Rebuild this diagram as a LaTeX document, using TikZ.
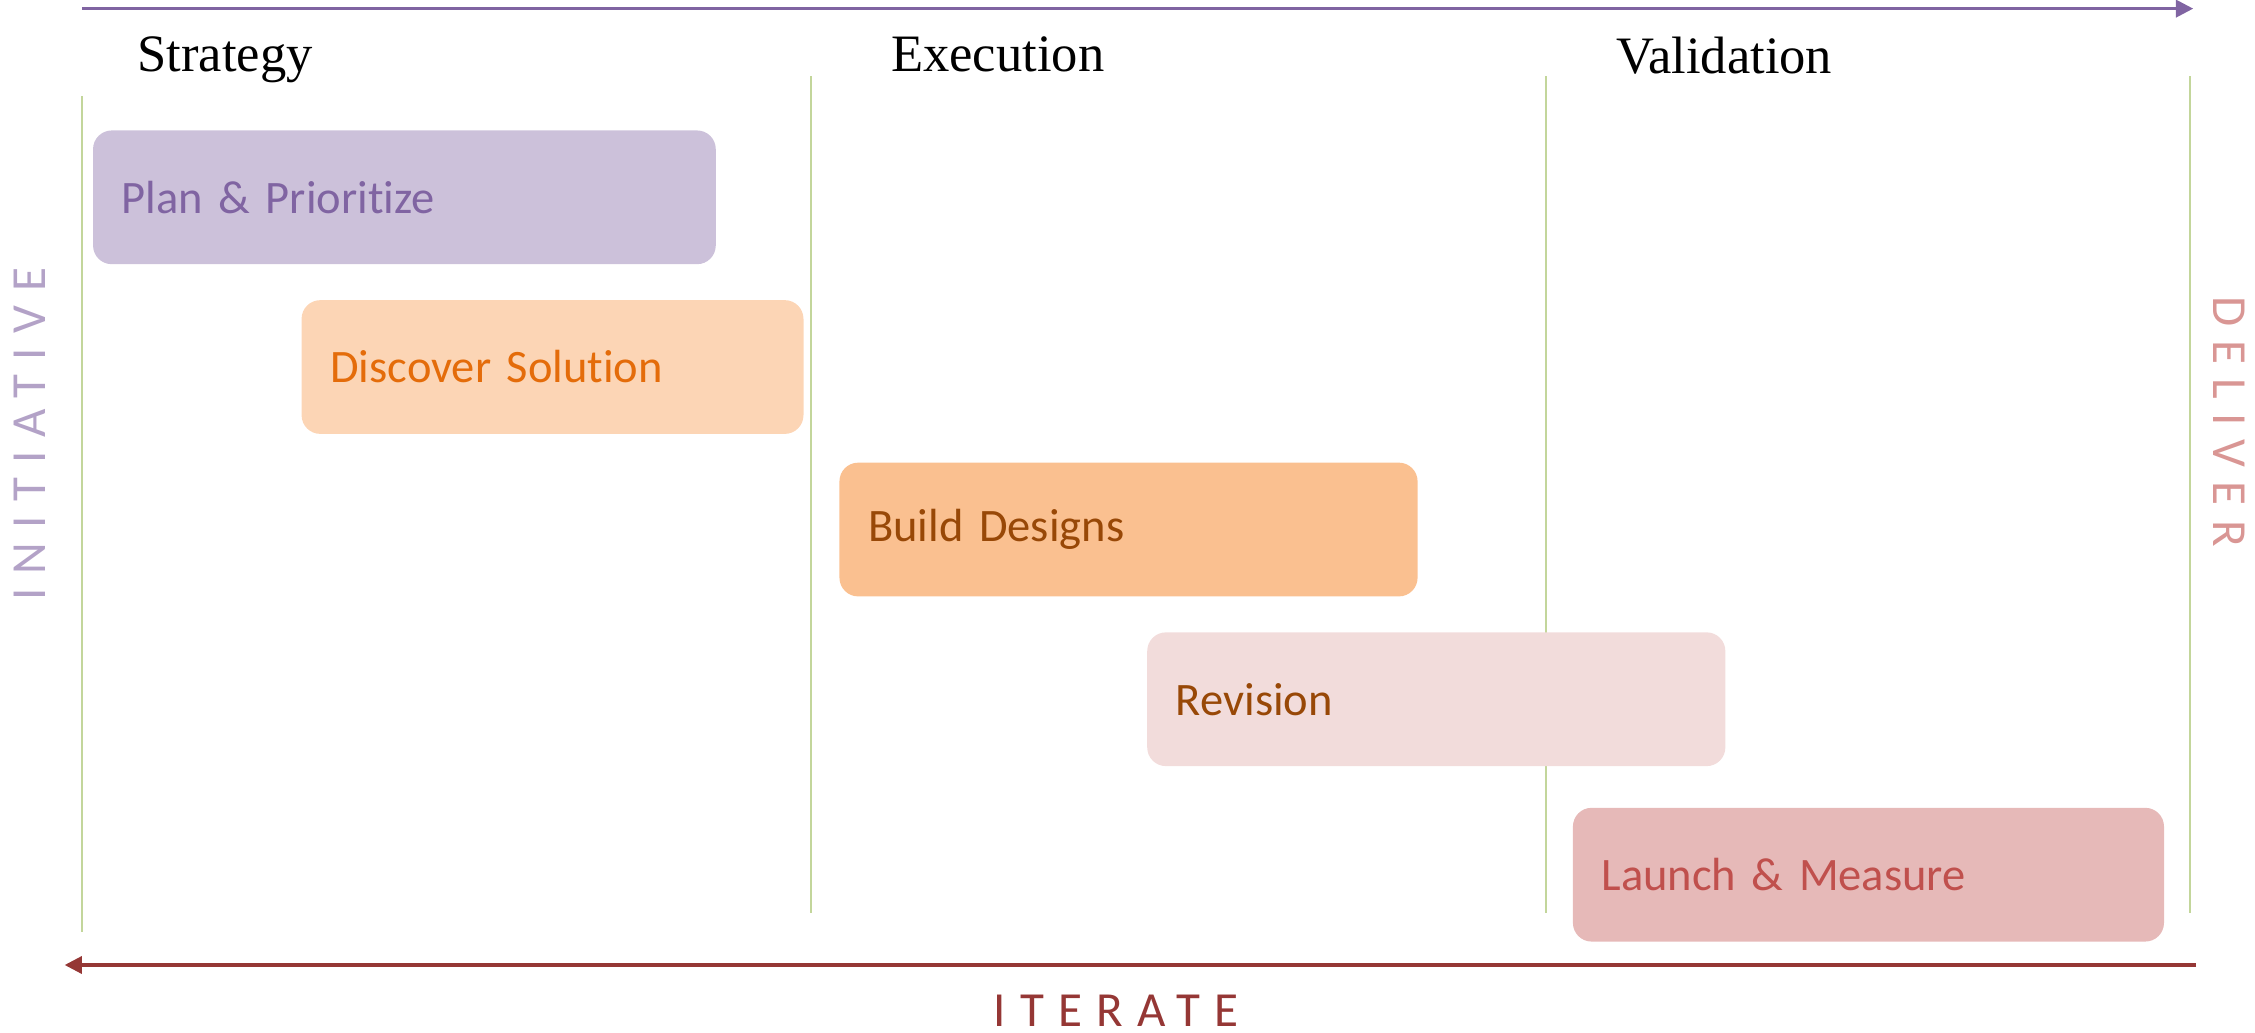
\documentclass[tikz,border=0pt]{standalone}
\usepackage{fontspec}
\setmainfont{Liberation Serif}
\newfontfamily\boxfont[Ligatures=NoCommon]{Carlito}
\newfontfamily\spacedfont[LetterSpace=29, Ligatures=NoCommon]{Carlito}
\usetikzlibrary{arrows.meta, positioning}
\definecolor{timepurple}{RGB}{128, 100, 162}
\definecolor{loopred}{RGB}{149, 55, 53}
\definecolor{lanegreen}{RGB}{195, 214, 155}
\definecolor{planfill}{RGB}{204, 193, 218}
\definecolor{discfill}{RGB}{252, 213, 181}
\definecolor{discorange}{RGB}{228, 108, 10}
\definecolor{buildfill}{RGB}{250, 192, 144}
\definecolor{buildbrown}{RGB}{152, 72, 7}
\definecolor{revfill}{RGB}{242, 220, 219}
\definecolor{launchfill}{RGB}{230, 185, 184}
\definecolor{launchred}{RGB}{192, 80, 77}
\definecolor{initlilac}{RGB}{179, 162, 199}
\definecolor{delivpink}{RGB}{217, 150, 148}

\begin{document}
\begin{tikzpicture}[
  phase/.style={font=\fontsize{10.4}{12}\selectfont, anchor=base west, inner xsep=0pt},
  task/.style={rounded corners=0.13cm, anchor=north west, minimum height=0.93cm,
    inner xsep=0.2cm, align=left, font=\boxfont\fontsize{9.2}{11}\selectfont},
  lane/.style={draw=lanegreen, line width=0.45pt},
  tag/.style={font=\spacedfont\fontsize{9.7}{11}\selectfont}
]
  \useasboundingbox (0,0) rectangle (15.68,7.18);

  % Time arrow
  \coordinate (timeS) at (0.57,7.12);
  \coordinate (timeE) at (15.25,7.12);
  \draw[timepurple, line width=0.6pt, -{Triangle[length=0.12cm, width=0.12cm]}] (timeS) -- (timeE);

  % Phases
  \node[phase] (strategy) at (0.95,6.68) {Strategy};
  \node[phase] (execution) at (6.19,6.68) {Execution};
  \node[phase] (validation) at (11.23,6.67) {Validation};

  % Lanes
  \draw[lane] (0.57,6.51) -- (0.57,0.70);
  \draw[lane] (5.64,6.65) -- (5.64,0.83);
  \draw[lane] (10.75,6.65) -- (10.75,0.83);
  \draw[lane] (15.23,6.65) -- (15.23,0.83);

  % Tasks
  \node[task, fill=planfill, text=timepurple, text width=3.93cm] (plan) at (0.64,6.28) {Plan \& Prioritize};
  \node[task, fill=discfill, text=discorange, text width=3.09cm] (discover) at (2.09,5.10) {Discover Solution};
  \node[task, fill=buildfill, text=buildbrown, text width=3.62cm] (build) at (5.83,3.97) {Build Designs};
  \node[task, fill=revfill, text=buildbrown, text width=3.62cm] (revision) at (7.97,2.79) {Revision};
  \node[task, fill=launchfill, text=launchred, text width=3.71cm] (launch) at (10.93,1.57) {Launch \& Measure};

  % Side labels
  \node[tag, text=initlilac, rotate=90] (initiative) at (0.21,4.16) {INITIATIVE};
  \node[tag, text=delivpink, rotate=-90] (deliver) at (15.50,4.25) {DELIVER};

  % Iterate arrow
  \coordinate (loopS) at (15.27,0.47);
  \coordinate (loopE) at (0.45,0.47);
  \draw[loopred, line width=0.6pt, -{Triangle[length=0.12cm, width=0.12cm]}] (loopS) -- (loopE);
  \node[tag, text=loopred] (iterate) at (7.76,0.15) {ITERATE};
\end{tikzpicture}
\end{document}
